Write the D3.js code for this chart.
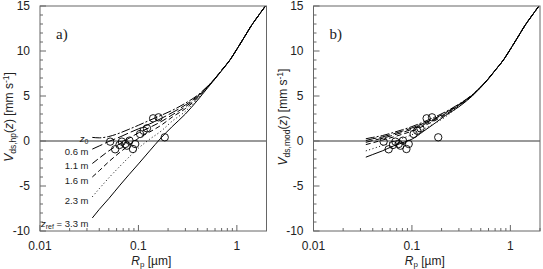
<!DOCTYPE html>
<html><head><meta charset="utf-8">
<script src="https://cdn.jsdelivr.net/npm/d3@7"></script>
<style>body{margin:0;background:#fff}svg{display:block}text{font-family:"Liberation Sans",Arial,sans-serif;fill:#222}</style>
</head><body><div id="c"></div>
<script>
// ---- data ----
const rGrid = [0.034,0.04,0.05,0.065,0.08,0.1,0.13,0.17,0.22,0.3,0.4,0.5,0.6,0.7,0.85,1.0,1.2,1.4,1.7,1.95];
const tail = [9.0,10.2,11.6,12.8,14.1,15.0];
const aZ0 = [0.40,0.35,0.50,0.90,1.30,1.75,2.30,2.85,3.40,4.20,5.10,6.05,6.95,7.85].concat(tail);
const a06 = [-0.90,-0.55,-0.05,0.45,0.90,1.35,1.90,2.50,3.15,4.00,5.00,6.00,6.95,7.85].concat(tail);
const a11 = [-2.50,-1.90,-1.10,-0.30,0.30,0.90,1.50,2.15,2.90,3.80,4.90,6.00,6.95,7.85].concat(tail);
const a16 = [-4.00,-3.30,-2.30,-1.25,-0.50,0.30,1.00,1.75,2.65,3.60,4.80,5.95,6.95,7.85].concat(tail);
const a23 = [-6.20,-5.30,-4.10,-2.80,-1.80,-0.80,0.20,1.10,2.20,3.30,4.70,5.90,6.90,7.85].concat(tail);
const a33 = [-8.55,-7.60,-6.40,-4.90,-3.75,-2.55,-1.10,0.35,1.60,3.00,4.55,5.85,6.90,7.80].concat(tail);
const bZ0 = [0.25,0.40,0.60,0.95,1.25,1.60,2.10,2.65,3.25,4.10,5.05,6.00,6.95,7.85].concat(tail);
const b06 = [0.05,0.25,0.45,0.80,1.10,1.45,1.95,2.50,3.15,4.05,5.00,6.00,6.95,7.85].concat(tail);
const b11 = [-0.15,0.05,0.30,0.65,0.95,1.30,1.80,2.40,3.05,4.00,5.00,6.00,6.95,7.85].concat(tail);
const b16 = [-0.40,-0.20,0.10,0.45,0.75,1.10,1.65,2.25,2.95,3.95,4.95,6.00,6.95,7.85].concat(tail);
const b23 = [-1.10,-0.85,-0.50,-0.05,0.30,0.70,1.30,1.95,2.70,3.85,4.90,5.95,6.95,7.85].concat(tail);
const b33 = [-1.80,-1.50,-1.10,-0.55,-0.20,0.20,1.05,1.95,2.85,3.80,4.90,5.95,6.90,7.85].concat(tail);
const obsR = [0.0516,0.0580,0.0642,0.0679,0.0734,0.0764,0.0811,0.0879,0.0927,0.104,0.113,0.122,0.141,0.160,0.185];
const obsV = [-0.07,-0.92,-0.44,-0.07,-0.33,-0.52,0.04,-0.89,-0.33,0.78,1.14,1.41,2.52,2.63,0.41];
const yTicks = [-10,-5,0,5,10,15];
const xTicks = [0.01,0.1,1];
const xTickLabels = ["0.01","0.1","1"];
const curveLabels = ["z0","0.6 m","1.1 m","1.6 m","2.3 m","zref = 3.3 m"];
const dashes = ["9,2,2,2","11,3","7,3","5,3","1,2.5",null];

const W=543,H=269;
const svg=d3.select("#c").append("svg").attr("width",W).attr("height",H);

function panel(x0,x1,series,tag,yLab){
  const x=d3.scaleLog().domain([0.01,2]).range([x0,x1]);
  const y=d3.scaleLinear().domain([-10,15]).range([231,6]);
  const g=svg.append("g");
  const cid="clip"+tag;
  svg.append("clipPath").attr("id",cid).append("rect").attr("x",x0).attr("y",6).attr("width",x1-x0).attr("height",225);
  g.append("line").attr("x1",x0).attr("x2",x1).attr("y1",y(0)).attr("y2",y(0)).attr("stroke","#777").attr("stroke-width",1.3);
  const line=d3.line().x(d=>x(d[0])).y(d=>y(d[1])).curve(d3.curveMonotoneX);
  series.forEach((s,i)=>{
    g.append("path").attr("clip-path",`url(#${cid})`).datum(rGrid.map((r,j)=>[r,s[j]]))
     .attr("d",line).attr("fill","none").attr("stroke","#000").attr("stroke-width",1)
     .attr("stroke-dasharray",dashes[i]);
  });
  g.selectAll("circle.o").data(obsR.map((r,i)=>[r,obsV[i]])).enter().append("circle")
   .attr("cx",d=>x(d[0])).attr("cy",d=>y(d[1])).attr("r",3.7)
   .attr("fill","none").attr("stroke","#000").attr("stroke-width",0.9);
  g.append("rect").attr("x",x0).attr("y",6).attr("width",x1-x0).attr("height",225)
   .attr("fill","none").attr("stroke","#666").attr("stroke-width",1);
  d3.range(-10,16,1).forEach(v=>{
    const major=v%5===0;
    g.append("line").attr("x1",x0).attr("x2",x0+(major?6:3)).attr("y1",y(v)).attr("y2",y(v)).attr("stroke","#666");
  });
  yTicks.forEach(v=>g.append("text").attr("x",x0-10).attr("y",y(v)).attr("dy","0.35em")
    .attr("text-anchor","end").style("font-size","12px").text(v));
  const minors=[];
  [0.01,0.1,1].forEach(d=>{for(let k=1;k<10;k++){const v=d*k;if(v<=2.0001)minors.push([v,k===1]);}});
  minors.forEach(([v,maj])=>{
    g.append("line").attr("x1",x(v)).attr("x2",x(v)).attr("y1",231).attr("y2",231-(maj?6:3)).attr("stroke","#666");
  });
  xTicks.forEach((v,i)=>g.append("text").attr("x",x(v)).attr("y",250).attr("text-anchor","middle")
    .style("font-size","12px").text(xTickLabels[i]));
  const xt=g.append("text").attr("x",(x0+x1)/2-2).attr("y",264.5).attr("text-anchor","middle").style("font-size","12px");
  xt.append("tspan").style("font-style","italic").text("R");
  xt.append("tspan").attr("dy",2).style("font-size","8px").text("p");
  xt.append("tspan").attr("dy",-2).text(" [µm]");
  const yt=g.append("text").attr("transform",`translate(${x0-27},${117}) rotate(-90)`)
    .attr("text-anchor","middle").style("font-size","12px");
  yt.append("tspan").style("font-style","italic").text("V");
  yt.append("tspan").attr("dy",3).style("font-size","8.5px").text(yLab);
  yt.append("tspan").attr("dy",-3).text("(");
  yt.append("tspan").style("font-style","italic").text("z");
  yt.append("tspan").text(") [mm s");
  yt.append("tspan").attr("dy",-4).style("font-size","8.5px").text("-1");
  yt.append("tspan").attr("dy",4).text("]");
  g.append("text").attr("x",x0+16).attr("y",39).style("font-family","'Liberation Serif',serif")
   .style("font-size","15px").text(tag+")");
  return {x,y,g};
}

const pa=panel(40,266.5,[aZ0,a06,a11,a16,a23,a33],"a","ds,hp");
panel(313.5,540,[bZ0,b06,b11,b16,b23,b33],"b","ds,mod");

const lg=pa.g;
const labY=[138.5,152,166,180.5,201,223.5];
curveLabels.forEach((t,i)=>{
  const tx=lg.append("text").attr("x",88.5).attr("y",labY[i]).attr("dy","0.35em")
   .attr("text-anchor","end").style("font-size","9.5px");
  if(i===0){
    tx.append("tspan").style("font-style","italic").text("z");
    tx.append("tspan").attr("dy",2.5).style("font-size","7px").text("0");
  } else if(i===5){
    tx.append("tspan").style("font-style","italic").text("z");
    tx.append("tspan").attr("dy",2.5).style("font-size","7px").text("ref");
    tx.append("tspan").attr("dy",-2.5).text(" = 3.3 m");
  } else tx.text(t);
});
</script></body></html>
